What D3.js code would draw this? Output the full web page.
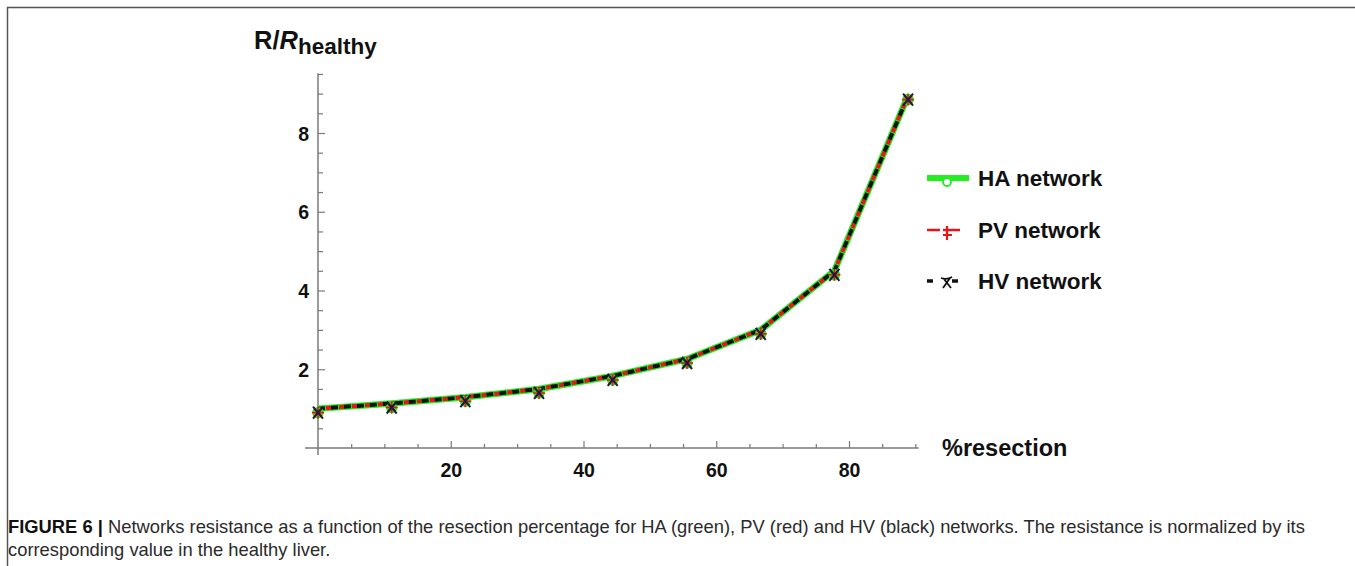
<!DOCTYPE html>
<html>
<head>
<meta charset="utf-8">
<script src="https://cdn.jsdelivr.net/npm/d3@7"></script>
<style>
  body { margin: 0; background: #fff; }
  svg { display: block; font-family: "Liberation Sans", Arial, sans-serif; }
</style>
</head>
<body>
<div id="chart"></div>
<script>
"use strict";
// resistance vs resection, three networks

// resection percentages (n/9 of the liver)
var resection = [0, 11.1, 22.2, 33.3, 44.4, 55.6, 66.7, 77.8, 88.9];
// R / R_healthy for each network (the three overlap)
var haValues = [1.0, 1.13, 1.29, 1.5, 1.83, 2.26, 3.0, 4.5, 8.95];
var pvValues = [1.0, 1.13, 1.29, 1.5, 1.83, 2.26, 3.0, 4.5, 8.95];
var hvValues = [1.0, 1.13, 1.29, 1.5, 1.83, 2.26, 3.0, 4.5, 8.95];

var xMajor = [20, 40, 60, 80];
var yMajor = [2, 4, 6, 8];
var legendLabels = ["HA network", "PV network", "HV network"];

var captionBold = "FIGURE 6 | ";
var captionLine1 = "Networks resistance as a function of the resection percentage for HA (green), PV (red) and HV (black) networks. The resistance is normalized by its";
var captionLine2 = "corresponding value in the healthy liver.";

var W = 1355, H = 566;
var AXIS = "#7a7a7a";
var GREEN = "#22ee22", RED = "#e8141c", BLACK = "#111";

var svg = d3.select("#chart").append("svg")
    .attr("width", W)
    .attr("height", H);

// frame (top and left edges only)
svg.append("path")
    .attr("d", "M7.5,566V7.5H1355")
    .attr("fill", "none")
    .attr("stroke", "#555")
    .attr("stroke-width", 1.5);

var x = d3.scaleLinear().domain([0, 80]).range([318, 849]);
var y = d3.scaleLinear().domain([0, 8]).range([448, 133]);

// x axis
var gx = svg.append("g").attr("transform", "translate(0," + y(0) + ")");
gx.append("line")
    .attr("x1", 305).attr("x2", x(90.5))
    .attr("stroke", AXIS).attr("stroke-width", 1.5);
gx.append("g")
    .call(d3.axisBottom(x).tickValues(d3.range(5, 91, 5).filter(function(d){ return d % 20 != 0; }))
        .tickSize(-4).tickFormat(""))
    .call(function(g){ g.select(".domain").remove(); g.selectAll("line").attr("stroke", AXIS).attr("stroke-width", 1.2); });
gx.append("g")
    .call(d3.axisBottom(x).tickValues(xMajor).tickSize(-7))
    .call(function(g){
        g.select(".domain").remove();
        g.selectAll("line").attr("stroke", AXIS).attr("stroke-width", 1.2);
        g.selectAll("text").attr("y", 29).attr("dy", "0")
            .attr("fill", "#111").attr("font-size", 19.5).attr("font-weight", "bold")
            .attr("font-family", "Liberation Sans, Arial, sans-serif");
    });

// y axis
var gy = svg.append("g").attr("transform", "translate(" + x(0) + ",0)");
gy.append("line")
    .attr("y1", 455).attr("y2", y(9.52))
    .attr("stroke", AXIS).attr("stroke-width", 1.5);
gy.append("g")
    .call(d3.axisLeft(y).tickValues(d3.range(0.5, 9.6, 0.5).filter(function(d){ return d % 2 != 0; }))
        .tickSize(-5).tickFormat(""))
    .call(function(g){ g.select(".domain").remove(); g.selectAll("line").attr("stroke", AXIS).attr("stroke-width", 1.2); });
gy.append("g")
    .call(d3.axisLeft(y).tickValues(yMajor).tickSize(-7))
    .call(function(g){
        g.select(".domain").remove();
        g.selectAll("line").attr("stroke", AXIS).attr("stroke-width", 1.2);
        g.selectAll("text").attr("x", -9).attr("dy", "0.36em")
            .attr("fill", "#111").attr("font-size", 19.5).attr("font-weight", "bold")
            .attr("font-family", "Liberation Sans, Arial, sans-serif");
    });

// axis titles
var yt = svg.append("text")
    .attr("x", 254).attr("y", 49)
    .attr("font-weight", "bold").attr("font-size", 25.5).attr("fill", "#111");
yt.append("tspan").text("R/");
yt.append("tspan").attr("font-style", "italic").text("R");
yt.append("tspan").attr("font-size", 22.5).attr("dy", 5).text("healthy");

svg.append("text")
    .attr("x", 942).attr("y", 456)
    .attr("font-weight", "bold").attr("font-size", 23.5).attr("fill", "#111")
    .text("%resection");

// curves
var line = d3.line()
    .x(function(d){ return x(d[0]); })
    .y(function(d){ return y(d[1]); });

function pairs(vals) { return resection.map(function(r, i){ return [r, vals[i]]; }); }

svg.append("path").datum(pairs(haValues))
    .attr("d", line).attr("fill", "none")
    .attr("stroke", GREEN).attr("stroke-width", 6.5).attr("stroke-linejoin", "round");
svg.append("path").datum(pairs(pvValues))
    .attr("d", line).attr("fill", "none")
    .attr("stroke", RED).attr("stroke-width", 4)
    .attr("stroke-dasharray", "5,8").attr("stroke-dashoffset", -8);
svg.append("path").datum(pairs(hvValues))
    .attr("d", line).attr("fill", "none")
    .attr("stroke", BLACK).attr("stroke-width", 4)
    .attr("stroke-dasharray", "7,6");

// markers (drawn a few px under the curve, as in the original)
var mk = svg.append("g").attr("transform", "translate(0,4)");
mk.selectAll("circle").data(pairs(haValues)).enter().append("circle")
    .attr("cx", function(d){ return x(d[0]); })
    .attr("cy", function(d){ return y(d[1]); })
    .attr("r", 5).attr("fill", GREEN).attr("stroke", GREEN).attr("stroke-width", 1.5);
mk.selectAll("path.plus").data(pairs(pvValues)).enter().append("path")
    .attr("class", "plus")
    .attr("transform", function(d){ return "translate(" + x(d[0]) + "," + y(d[1]) + ")"; })
    .attr("d", "M-6,0H6M0,-6V6M-4,-4L4,4M-4,4L4,-4")
    .attr("stroke", RED).attr("stroke-width", 1.6);
mk.selectAll("path.cross").data(pairs(hvValues)).enter().append("path")
    .attr("class", "cross")
    .attr("transform", function(d){ return "translate(" + x(d[0]) + "," + y(d[1]) + ")"; })
    .attr("d", "M-5,-6L5,6M5,-6L-5,6")
    .attr("stroke", "#1a1a40").attr("stroke-width", 2);

// legend
var leg = svg.append("g");
var legY = [178, 230, 281];
// HA
leg.append("line").attr("x1", 927).attr("x2", 969).attr("y1", legY[0]).attr("y2", legY[0])
    .attr("stroke", GREEN).attr("stroke-width", 6);
leg.append("circle").attr("cx", 947).attr("cy", legY[0] + 4).attr("r", 4)
    .attr("fill", "#fff").attr("stroke", GREEN).attr("stroke-width", 1.8);
// PV
leg.append("line").attr("x1", 927).attr("x2", 940).attr("y1", legY[1]).attr("y2", legY[1])
    .attr("stroke", RED).attr("stroke-width", 2.5);
leg.append("line").attr("x1", 943).attr("x2", 960).attr("y1", legY[1]).attr("y2", legY[1])
    .attr("stroke", RED).attr("stroke-width", 2.5);
leg.append("path").attr("d", "M947," + (legY[1] - 4) + "V" + (legY[1] + 10)
        + "M943," + (legY[1] + 5) + "H952")
    .attr("stroke", RED).attr("stroke-width", 2.2);
// HV
leg.append("line").attr("x1", 927).attr("x2", 933).attr("y1", legY[2]).attr("y2", legY[2])
    .attr("stroke", BLACK).attr("stroke-width", 3.5);
leg.append("line").attr("x1", 952).attr("x2", 958).attr("y1", legY[2]).attr("y2", legY[2])
    .attr("stroke", BLACK).attr("stroke-width", 3.5);
leg.append("path").attr("d", "M941," + (legY[2] - 3) + "Q947," + (legY[2] - 1) + " 952," + (legY[2] - 4)
        + "M943," + (legY[2] + 7) + "L950," + (legY[2] - 3) + "M944," + (legY[2] - 2) + "L951," + (legY[2] + 7))
    .attr("fill", "none").attr("stroke", BLACK).attr("stroke-width", 1.8);

leg.selectAll("text").data(legendLabels).enter().append("text")
    .attr("x", 978)
    .attr("y", function(d, i){ return legY[i] + 8; })
    .attr("font-weight", "bold").attr("font-size", 22.5).attr("fill", "#111")
    .text(function(d){ return d; });

// caption
var cap = svg.append("g").attr("fill", "#2a2a2a").attr("font-family", "Liberation Sans, Arial, sans-serif");
var c1 = cap.append("text").attr("x", 0).attr("y", 0).attr("font-size", 17.5);
c1.append("tspan").attr("font-weight", "bold").attr("fill", "#111").text(captionBold);
c1.append("tspan").text(captionLine1);
var c2 = cap.append("text").attr("x", 0).attr("y", 0).attr("font-size", 17.5).text(captionLine2);
var natural = c1.node().getComputedTextLength();
var sx = 1298 / natural;
c1.attr("transform", "translate(8,533) scale(" + sx + ",1)");
c2.attr("transform", "translate(8,556) scale(" + sx + ",1)");
</script>
</body>
</html>
